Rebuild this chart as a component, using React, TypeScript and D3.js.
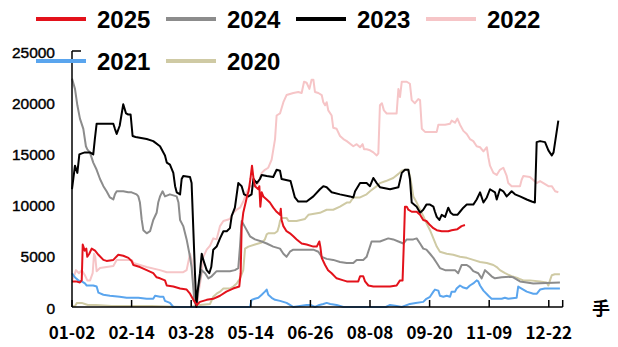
import React from "react";
import * as d3 from "d3";

type Pt = [number, number];

const xTickLabels = ["01-02", "02-14", "03-28", "05-14", "06-26", "08-08", "09-20", "11-09", "12-22"];
const yTicks = [0, 5000, 10000, 15000, 20000, 25000];
const unitLabel = "手";

const s2025: Pt[] = [[0,2500],[2,2500],[4,2400],[4.9,2600],[5.4,6100],[6.4,5500],[7.2,5700],[7.7,4900],[8.7,5200],[9.9,5700],[11.6,5500],[13.3,5100],[15.8,4600],[17.4,4500],[20.8,4600],[23.3,5100],[25.8,5000],[28.4,4800],[30,4500],[30.9,4100],[34.2,3900],[37.6,3600],[40.9,3300],[42.6,2900],[44.3,2800],[46.8,2600],[47.7,2100],[51,2000],[54.4,1800],[57.7,1700],[59.4,1300],[61.1,700],[62.8,200],[64.4,500],[67.8,700],[71.1,800],[74.5,1100],[77.7,1500],[81.1,1800],[84.2,2000],[84.9,3300],[85.4,7900],[86.2,9200],[88.1,10800],[88.9,11300],[89.8,12500],[90.6,13800],[91.4,12500],[92.1,11800],[93.8,11500],[94.3,11800],[94.8,9800],[95.5,11200],[96.3,10800],[98,10500],[99.6,10200],[101.3,9700],[103,9300],[104.7,9000],[105.1,9600],[105.5,8500],[106.4,7900],[108,7400],[109.7,7200],[111.4,6900],[113.1,6600],[115.6,6200],[118.1,6100],[121.5,5900],[123.2,5900],[124.5,6400],[125,5900],[125.7,4800],[127.4,4100],[128.9,3600],[130.7,3300],[133.2,2800],[136.6,2600],[138.3,2500],[144.1,2500],[145,3000],[146.6,3000],[147.5,2500],[149.2,2100],[151.7,2000],[155,2000],[160.1,2000],[163.4,2100],[165.1,2600],[166.4,2600],[167.1,6600],[167.6,9800],[168.5,9800],[169.3,9500],[171,9300],[173.5,9300],[175.2,9000],[176.8,8500],[178.4,8400],[180.2,8000],[181.9,7700],[183.6,7500],[186.1,7400],[189.4,7400],[191.1,7500],[194,7600],[196.1,7900],[197.8,8000]];

const s2024: Pt[] = [[0,22300],[1.5,21300],[2.7,19700],[4,18400],[5.7,17400],[7,15700],[7.7,15400],[9,15100],[10.7,14100],[12.4,13400],[14.1,12500],[15.8,11800],[17.4,11300],[19.1,10700],[20.8,10500],[21.6,11000],[22.5,11300],[25.8,11300],[28.3,11200],[30,11200],[32.5,11000],[33.4,10800],[34.2,10200],[35.1,8500],[35.9,7500],[37.6,7200],[39.3,7400],[40.9,8500],[42.6,9200],[43.4,10200],[44.3,10800],[45.6,11300],[46.8,10800],[49.3,11000],[52.7,10800],[53.6,10200],[54.4,8500],[56,7900],[57.7,6600],[59.4,4900],[60.2,3900],[61.6,600],[62.6,0],[63.6,1900],[65.3,3600],[67,3300],[68.6,2800],[70.3,3000],[72.8,3500],[79.5,3500],[82,3600],[83.7,3800],[84.6,6000],[85.4,8400],[87.1,7800],[89.6,6900],[92.1,6600],[95.5,6400],[98,6200],[101.3,5900],[104.7,5700],[106.4,5200],[108,4900],[109.7,5400],[111.4,5600],[121.5,5600],[124,5400],[125.7,4900],[128.2,4700],[131.5,4600],[134.9,4400],[138.3,4300],[141.6,4300],[143.3,4600],[146.6,4600],[148.3,4900],[150.8,6400],[155,6400],[159.2,6700],[161.7,6600],[164.3,6400],[166.8,6200],[168.5,6600],[171.8,6600],[173.5,6700],[175.2,6200],[176.8,5700],[178.4,5600],[180.2,5200],[181.9,4800],[183.6,4300],[185.2,3800],[187.8,3600],[192.8,3600],[194.4,3300],[196.1,4100],[198.7,4100],[200.3,3900],[202,3500],[204.5,3300],[206.2,2800],[207.9,3600],[209.6,3300],[211.2,3000],[212.9,2800],[216.3,2900],[220.4,2950],[222.1,2900],[225.5,2500],[228.9,2400],[232.2,2300],[245.6,2400]];

const s2023: Pt[] = [[0,11500],[1.5,13800],[2.7,13100],[3.7,14900],[5,15000],[6.5,15100],[9,15100],[10.7,14900],[11.5,16400],[12.4,17900],[19,17900],[20.8,17900],[21.6,17400],[22.5,16900],[24,17700],[25.8,19800],[27.2,18900],[28.3,18800],[29.5,18800],[30.5,16700],[32,16600],[37.6,16400],[40.9,16200],[44.3,15700],[46.8,14800],[47.7,14100],[49.3,13900],[51,13100],[51.9,11800],[52.7,11200],[54.4,11000],[55.2,12500],[56,12800],[59.4,12700],[60.2,12100],[61.9,3300],[62.6,0],[63.1,1300],[64.4,3300],[65.3,5200],[66.1,4600],[67.8,3600],[69.1,3300],[70.1,3900],[71.1,5600],[72.8,5900],[74.5,6700],[76.2,7400],[77.9,7400],[79.5,7700],[80.4,8900],[82,9700],[83.7,12100],[85.4,11800],[86.6,11000],[88.8,10800],[90.4,11000],[91.3,12500],[93,12100],[94.6,12500],[95.5,12900],[98,12800],[101.3,12700],[103,13400],[104.7,13300],[105.5,12500],[110,12300],[112.2,10700],[113.9,10300],[118.1,10300],[121.5,10800],[124.8,11500],[126.5,11800],[128.2,11700],[130.7,11200],[134.9,11000],[139.9,10800],[141.6,10700],[142.5,11300],[145,12100],[148.3,12100],[150,11800],[151.7,12600],[153.4,12100],[155,11700],[160.1,11500],[164.3,11700],[166,13100],[167.6,13400],[169.3,13400],[170.1,12500],[171,10200],[173.5,9800],[175.2,9200],[176.8,9500],[178.4,10000],[180.2,10000],[181.9,9800],[182.7,9300],[183.6,8800],[184.9,8500],[186.1,9000],[187.8,8800],[189.4,9700],[190.6,9200],[191.9,9000],[194,9000],[195.3,9300],[197,9700],[198.7,10000],[202,10000],[203.7,10500],[205.4,11200],[207.1,10200],[208.8,10700],[210.4,11500],[212.9,11200],[213.8,10500],[215.4,11500],[217.1,11300],[218.8,10800],[221.3,11300],[223,11000],[225.5,10800],[228.9,10500],[231.4,10300],[233,10200],[233.9,16100],[235.6,16200],[238.1,16100],[239.8,15300],[241.5,14800],[242.4,15100],[244.8,18200]];

const s2022: Pt[] = [[0,2600],[1,3000],[2,3600],[3.5,3300],[4.9,3600],[6.5,3100],[7.7,2600],[9.1,2600],[10.4,3300],[11.1,5200],[11.7,4900],[12.4,3500],[14.1,3800],[17.4,3900],[20.8,4000],[22.5,4600],[27.5,4600],[30,4600],[31,4300],[34.2,4100],[37.6,3900],[44.3,3600],[47.7,3400],[56,3400],[57.7,3600],[59.4,5200],[60.2,4600],[61.1,2000],[62.1,700],[63.1,0],[63.6,1300],[65.3,3300],[66.1,4900],[67.8,5600],[69.5,6000],[71.1,6700],[72.8,6600],[74.5,7900],[76.2,8400],[79.5,8600],[81.2,9200],[82.9,9500],[84.6,9700],[86.2,10300],[87.9,11200],[89.6,11800],[92.1,11800],[93.8,12100],[95.5,13100],[97.1,13400],[98.8,13600],[100.5,14400],[102.2,16400],[103,18700],[104.7,18900],[106.4,20000],[108,20700],[111.4,20900],[113.9,21000],[115.6,20900],[116.8,22000],[118.1,21900],[119.5,21300],[120.6,22200],[121.5,22200],[122.3,21000],[124,20900],[125.7,20700],[126.5,20000],[127.4,19700],[128.2,20000],[129,19200],[130.7,18700],[131.5,17500],[133.2,17400],[134.9,16700],[136.6,16400],[138.3,16200],[141.6,15700],[143.3,15900],[145,15600],[146.3,15900],[147,15400],[148.3,15400],[150,15300],[151.7,15100],[153.4,14800],[154.2,15000],[155,19700],[156,19900],[157,19200],[158.4,18900],[163.4,18900],[164.3,21300],[165.1,20500],[166,22000],[168.5,22000],[170.1,21800],[171,20200],[172.6,19900],[174.3,20300],[175.2,20200],[176.1,17400],[177.7,17100],[183.6,17100],[184.4,17800],[187.8,17800],[190.3,17900],[191.1,18200],[192.8,18000],[194,18400],[195.3,17800],[197,17200],[198.7,16900],[200.3,16400],[202,16200],[203.7,15700],[205.4,15600],[207.1,15200],[208.8,15600],[209.6,14600],[210.4,13800],[212.1,13100],[213.8,12900],[215.4,13400],[217.1,13600],[218.8,12800],[219.6,12100],[221.3,11800],[225.5,11800],[226.3,12400],[227.2,12800],[230.5,12700],[233.9,12100],[235.6,12300],[237.3,12100],[239.8,11800],[241.5,11800],[243.2,11300],[244.8,11200]];

const s2021: Pt[] = [[0,3300],[1,3000],[2,2800],[3.2,2600],[4.9,2500],[6.5,2300],[7.4,2100],[10.7,2100],[12.4,2000],[13.3,1400],[15.8,1200],[19.1,1100],[24,1000],[27.5,900],[33.4,900],[37.6,800],[40.9,800],[41.8,1100],[44.3,1000],[46,1000],[46.8,600],[49.3,400],[51,0],[89.6,0],[90.4,700],[92,800],[93.8,900],[95.5,1200],[97.1,1500],[98,1700],[98.8,1200],[100.5,900],[102.2,700],[104.7,600],[108,400],[109.7,200],[111.4,0],[118.1,200],[120,200],[122.3,0],[124.5,200],[126.5,300],[128.2,400],[130,300],[133.2,200],[136.6,0],[158,0],[160.1,200],[163.4,100],[166,0],[170.1,300],[173,400],[176.8,500],[178.4,800],[180.2,1000],[181.9,1500],[182.7,1700],[184.4,1600],[185.2,1100],[186.9,1000],[188.6,1100],[190.3,1000],[191.1,1500],[192.8,1500],[193.6,1800],[195.3,2100],[197,1900],[198.7,1800],[200.3,2100],[202,2300],[203.7,2600],[204.5,2500],[205.4,2100],[207.1,1600],[209.6,1100],[211.2,800],[216.3,800],[217.9,900],[219.6,800],[223.8,900],[224.6,2000],[226.3,1800],[228.9,1500],[232.2,1300],[234,1300],[235.6,1700],[238,1800],[245.6,1800]];

const s2020: Pt[] = [[0,100],[1.5,100],[2.5,400],[4.9,400],[6.5,300],[8,200],[12,200],[20,100],[40,100],[55,0],[59.4,0],[64.4,200],[69.5,300],[71.1,1000],[72.8,1300],[74.5,1500],[76.2,1800],[79.5,1800],[81.2,2000],[82.9,2300],[84.6,2800],[86.2,3600],[87.1,5700],[88.8,5900],[92.1,6100],[95.5,6300],[97.1,6600],[98,7100],[98.8,7200],[102,7200],[103.4,7400],[104.2,7900],[104.7,8400],[105.5,8700],[108,8700],[109,8400],[113,8400],[117.3,8600],[119,9000],[124.8,9200],[128.2,9500],[131.5,9500],[134.9,9800],[138.3,10200],[139.9,10200],[141.6,10700],[145,10700],[148.3,11000],[150,11300],[153.4,11800],[155,12100],[158,12300],[161.7,12600],[164.3,13000],[166,13300],[167.6,13400],[169.3,13400],[170.1,12800],[171,11800],[171.8,10800],[173.5,10200],[175.2,9500],[176.8,8900],[178.4,8200],[180.2,7500],[181.9,6700],[183.6,5900],[185.2,5400],[188.6,5200],[191.9,5100],[195.3,4900],[198.7,4800],[202,4600],[205.4,4400],[208.8,4300],[212.1,4100],[213.8,3900],[215.4,3600],[218,3300],[221.3,3000],[224.6,2800],[227.2,2600],[230.5,2600],[235.6,2500],[238.9,2400],[239.8,2100],[240.6,2600],[241.5,3100],[243,3200],[245.6,3200]];

const seriesNames = ["2025", "2024", "2023", "2022", "2021", "2020"];
const seriesColors = ["#e3121b", "#8c8c8c", "#000000", "#f6c5c7", "#5aa5ee", "#cfcaa4"];
const seriesData = [s2025, s2024, s2023, s2022, s2021, s2020];
const drawOrder = [3, 5, 4, 1, 2, 0];

const W = 618, H = 347;
const x = d3.scaleLinear().domain([0, 247]).range([72, 562.7]);
const y = d3.scaleLinear().domain([0, 25000]).range([307, 51]);
const tickDays = d3.range(0, 241, 30);

export default function App() {
  const line = d3.line<Pt>().x(d => x(d[0])).y(d => y(d[1]));
  const axisFont = "'Liberation Sans', Arial, sans-serif";
  const cjkFont = "'Noto Sans CJK SC', sans-serif";
  return (
    <svg width={W} height={H} style={{ position: "fixed", left: 0, top: 0, background: "#fff" }}>
      <rect width={W} height={H} fill="#fff" />
      {drawOrder.map(i => (
        <path key={i} d={line(seriesData[i]) || ""} fill="none" stroke={seriesColors[i]} strokeWidth={2} strokeLinejoin="round" />
      ))}
      <line x1={x(0)} x2={x(247)} y1={y(0)} y2={y(0)} stroke="#000" strokeWidth={1.5} />
      <line x1={x(0)} x2={x(0)} y1={y(0)} y2={y(25000)} stroke="#000" strokeWidth={1.5} />
      <line x1={x(0)} x2={x(0) + 9} y1={y(25000)} y2={y(25000)} stroke="#000" strokeWidth={1.5} />
      {tickDays.concat([247]).map(t => (
        <line key={t} x1={x(t)} x2={x(t)} y1={y(0)} y2={y(0) - 7} stroke="#000" strokeWidth={1.5} />
      ))}
      {tickDays.map((t, i) => (
        <text key={t} x={x(t)} y={339} textAnchor="middle" fontFamily={cjkFont} fontSize={17} fontWeight={700} fill="#000">{xTickLabels[i]}</text>
      ))}
      {yTicks.map(v => (
        <text key={v} x={55} y={y(v) + 1} textAnchor="end" dominantBaseline="central" fontFamily={axisFont} fontSize={15.5} fill="#000" stroke="#000" strokeWidth={0.4}>{d3.format("d")(v)}</text>
      ))}
      <text x={601} y={315} textAnchor="middle" fontFamily={cjkFont} fontSize={18} fontWeight={700} fill="#000">{unitLabel}</text>
      {seriesNames.map((n, i) => {
        const col = i < 4 ? i : i - 4;
        const row = i < 4 ? 0 : 1;
        const lx = 36 + col * 130;
        const ly = row === 0 ? 19 : 61;
        return (
          <g key={n}>
            <line x1={lx} x2={lx + 50} y1={ly} y2={ly} stroke={seriesColors[i]} strokeWidth={4} />
            <text x={lx + 61} y={ly + 9} fontFamily={axisFont} fontWeight="bold" fontSize={24} fill="#000">{n}</text>
          </g>
        );
      })}
    </svg>
  );
}
